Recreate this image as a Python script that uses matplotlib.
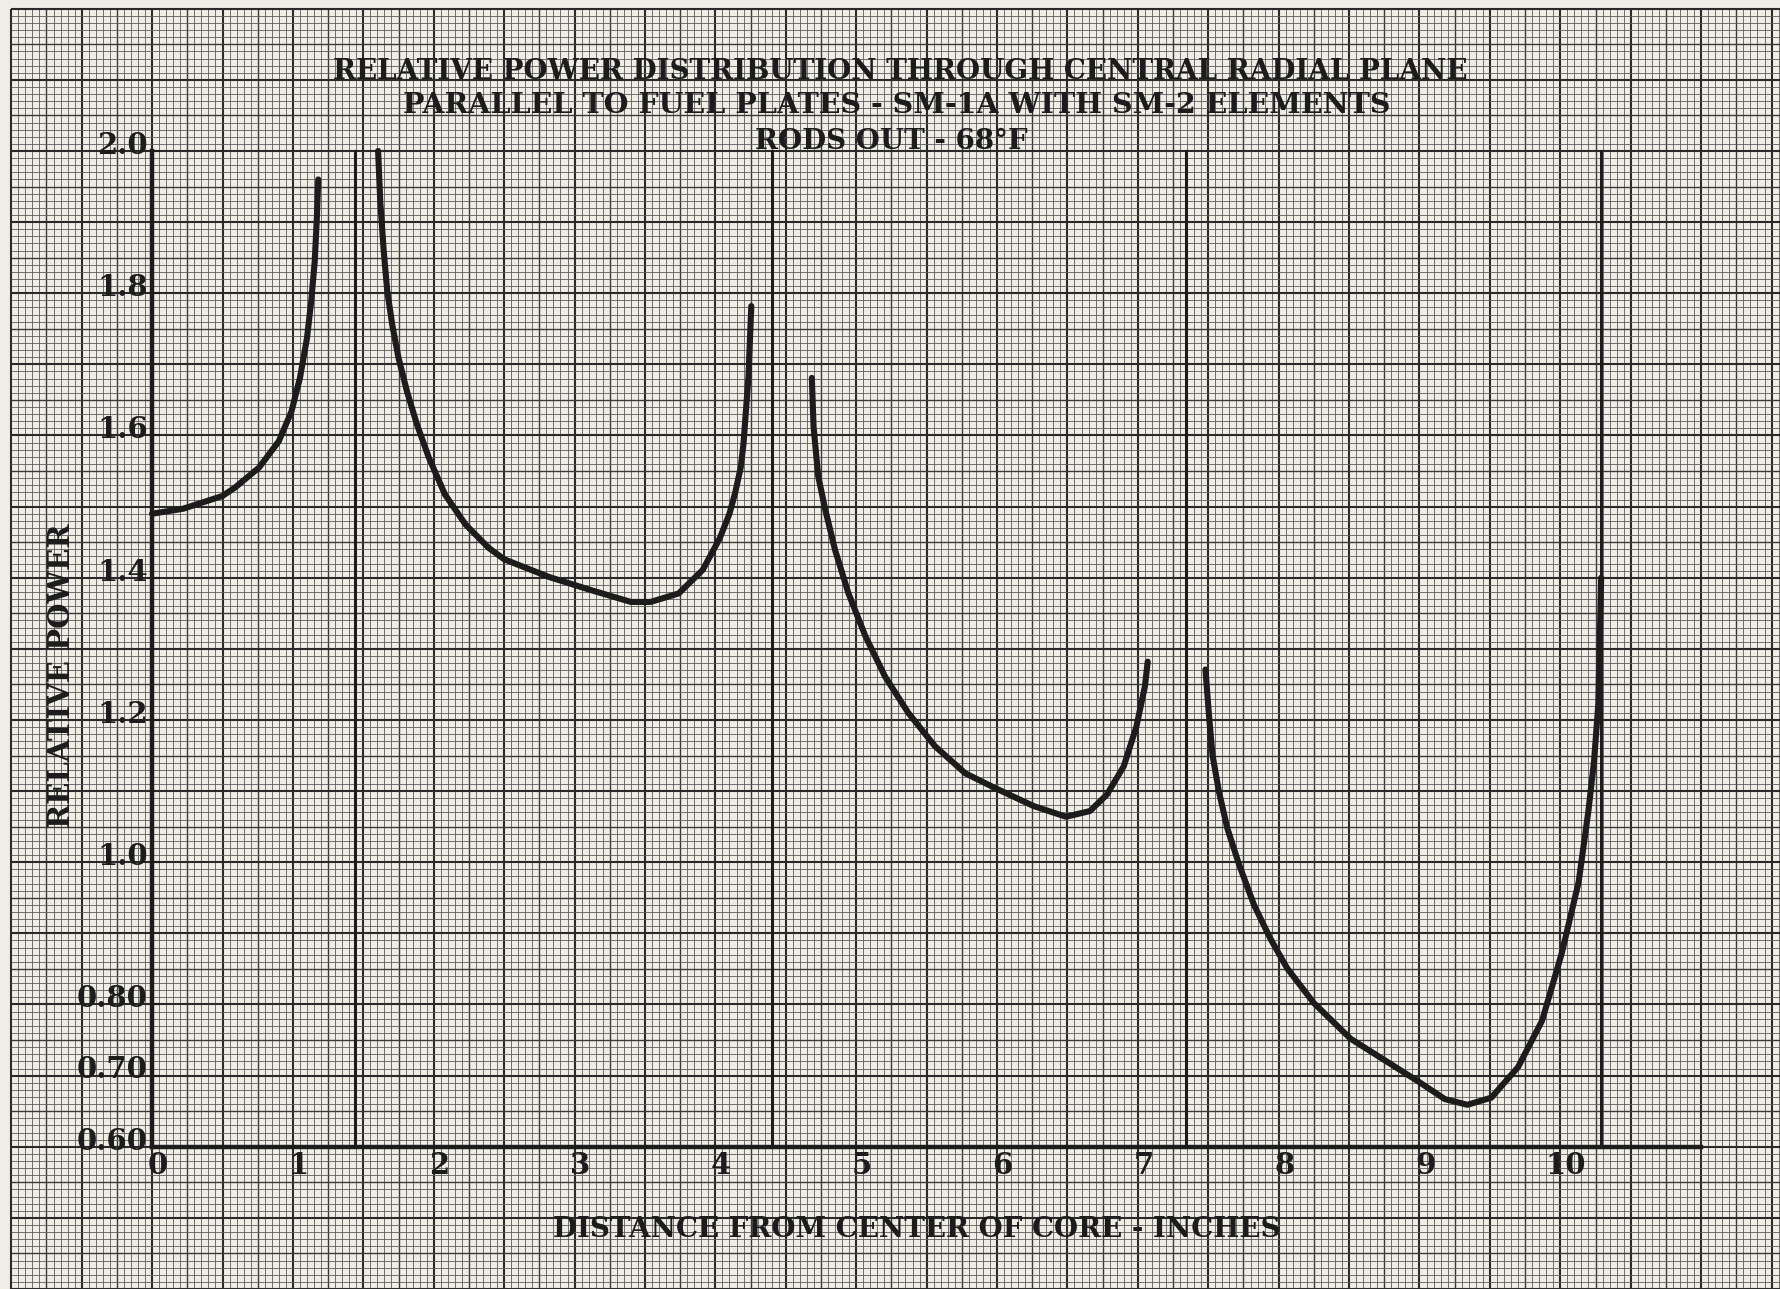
import numpy as np
import matplotlib
matplotlib.use('Agg')
import matplotlib.pyplot as plt

# relative power, one curve per fuel element region
x1 = [0.0, 0.22, 0.50, 0.59, 0.76, 0.90, 0.99, 1.05, 1.10, 1.13, 1.155, 1.17, 1.18]
y1 = [1.490, 1.497, 1.515, 1.527, 1.555, 1.592, 1.634, 1.681, 1.737, 1.789, 1.845, 1.906, 1.960]

x2 = [1.605, 1.62, 1.645, 1.67, 1.705, 1.75, 1.81, 1.88, 1.965, 2.08, 2.225, 2.39, 2.50,
      2.82, 3.11, 3.40, 3.54, 3.74, 3.91, 4.03, 4.10, 4.14, 4.18, 4.20, 4.235, 4.255]
y2 = [2.000, 1.930, 1.859, 1.803, 1.756, 1.709, 1.662, 1.616, 1.569, 1.517, 1.475, 1.442, 1.426,
      1.401, 1.383, 1.366, 1.366, 1.378, 1.411, 1.455, 1.490, 1.519, 1.555, 1.589, 1.683, 1.782]

x3 = [4.685, 4.697, 4.73, 4.78, 4.85, 4.945, 5.065, 5.205, 5.37, 5.56, 5.775, 5.99, 6.26, 6.49,
      6.66, 6.78, 6.90, 6.99, 7.05, 7.07]
y3 = [1.681, 1.613, 1.543, 1.496, 1.439, 1.378, 1.318, 1.261, 1.210, 1.163, 1.125, 1.104, 1.079, 1.064,
      1.072, 1.095, 1.135, 1.191, 1.247, 1.282]

x4 = [7.48, 7.505, 7.53, 7.575, 7.635, 7.72, 7.825, 7.94, 8.06, 8.25, 8.51, 8.75, 8.99,
      9.18, 9.34, 9.51, 9.70, 9.87, 10.01, 10.13, 10.20, 10.24, 10.27, 10.29]
y4 = [1.271, 1.207, 1.151, 1.100, 1.048, 0.996, 0.940, 0.893, 0.851, 0.802, 0.752, 0.722, 0.692,
      0.667, 0.659, 0.669, 0.712, 0.777, 0.872, 0.972, 1.073, 1.143, 1.223, 1.400]

# element boundaries
walls = [1.44, 4.40, 7.34, 10.29]

xticks = [0, 1, 2, 3, 4, 5, 6, 7, 8, 9, 10]
yticks = [2.0, 1.8, 1.6, 1.4, 1.2, 1.0, 0.80, 0.70, 0.60]
ylabels = ['2.0', '1.8', '1.6', '1.4', '1.2', '1.0', '0.80', '0.70', '0.60']

paper = '#efede6'
ink = '#1c1c1c'
font = 'DejaVu Serif'

fig = plt.figure(figsize=(17.8, 12.89), dpi=100, facecolor=paper)
ax = fig.add_axes([0, 0, 1, 1])
ax.set_facecolor(paper)
ax.set_xlim(-1.08, 11.56)
ax.set_ylim(0.40, 2.2123)
ax.axis('off')

# graph paper
gx0, gx1 = -1.0, 11.6
gy0, gy1 = 0.38, 2.2
xs = np.round(np.arange(gx0, gx1 + 1e-9, 0.05), 3)
ys = np.round(np.arange(gy0, gy1 + 1e-9, 0.01), 3)
for v in xs:
    k = int(round(v / 0.05))
    if k % 10 == 0:
        lw, c = 1.5, '#2a2a2a'
    elif k % 5 == 0:
        lw, c = 1.0, '#3a3a3a'
    else:
        lw, c = 0.6, '#5c5c5c'
    ax.vlines(v, gy0, gy1, colors=c, linewidth=lw, zorder=1)
for v in ys:
    k = int(round(v / 0.01))
    if k % 10 == 0:
        lw, c = 1.5, '#2a2a2a'
    elif k % 5 == 0:
        lw, c = 1.0, '#3a3a3a'
    else:
        lw, c = 0.6, '#5c5c5c'
    ax.hlines(v, gx0, gx1, colors=c, linewidth=lw, zorder=1)

# axes drawn by hand, as on the original sheet
ax.plot([0, 0], [0.6, 2.0], color=ink, lw=3.2, zorder=3)
ax.plot([0, 11.0], [0.6, 0.6], color=ink, lw=3.2, zorder=3)
for w in walls:
    ax.plot([w, w], [0.6, 2.0], color=ink, lw=2.2, zorder=3)

for xc, yc in [(x1, y1), (x2, y2), (x3, y3), (x4, y4)]:
    ax.plot(xc, yc, color=ink, lw=4.4, solid_capstyle='round',
            solid_joinstyle='round', zorder=4)

for t, lab in zip(yticks, ylabels):
    ax.plot([0, 0.05], [t, t], color=ink, lw=1.5, zorder=3)
    ax.text(-0.03, t + 0.008, lab, ha='right', va='center', fontsize=21,
            family=font, fontweight='bold', color=ink, zorder=5)
for t in xticks:
    ax.text(t + 0.04, 0.573, str(t), ha='center', va='center', fontsize=21,
            family=font, fontweight='bold', color=ink, zorder=5)

ax.text(-0.64, 1.263, 'RELATIVE POWER', rotation=90, ha='center', va='center',
        fontsize=21, family=font, fontweight='bold', color=ink, zorder=5)
ax.text(5.43, 0.484, 'DISTANCE FROM CENTER OF CORE - INCHES', ha='center', va='center',
        fontsize=20, family=font, fontweight='bold', color=ink, zorder=5)

ax.text(5.31, 2.112, 'RELATIVE POWER DISTRIBUTION THROUGH CENTRAL RADIAL PLANE',
        ha='center', va='center', fontsize=20, family=font, fontweight='bold', color=ink, zorder=5)
ax.text(5.29, 2.064, 'PARALLEL TO FUEL PLATES - SM-1A WITH SM-2 ELEMENTS',
        ha='center', va='center', fontsize=20.5, family=font, fontweight='bold', color=ink, zorder=5)
ax.text(5.25, 2.013, 'RODS OUT - 68°F',
        ha='center', va='center', fontsize=20, family=font, fontweight='bold', color=ink, zorder=5)

fig.savefig('out.png', dpi=100, facecolor=paper)
